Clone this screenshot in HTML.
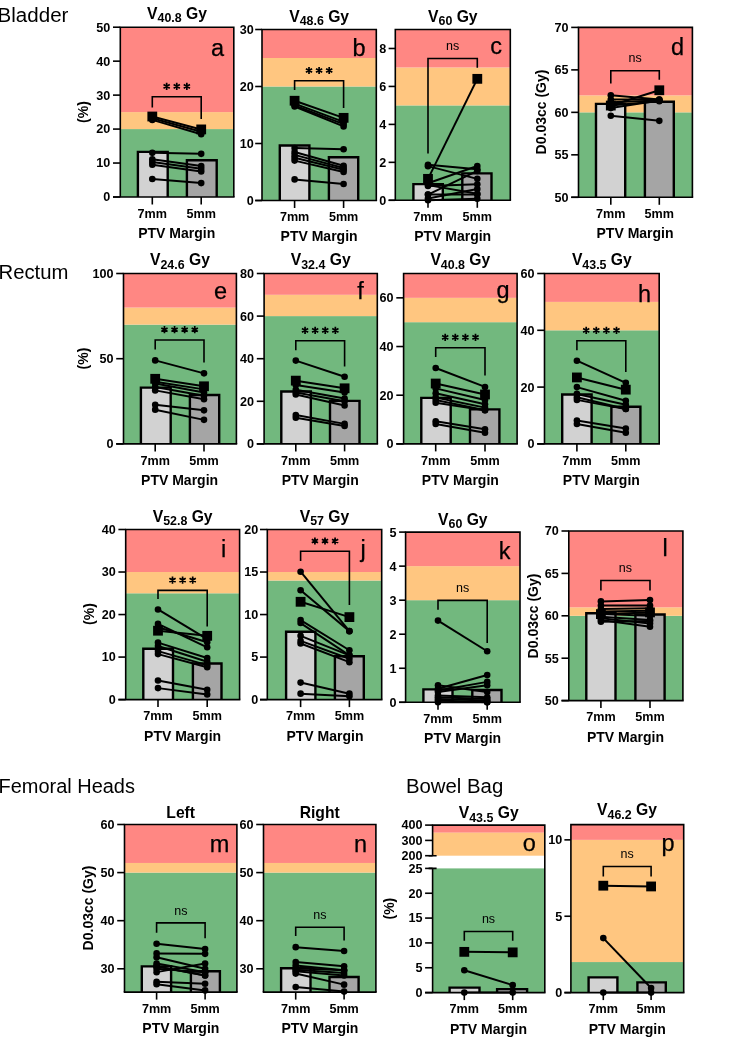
<!DOCTYPE html>
<html><head><meta charset="utf-8"><title>Figure</title>
<style>
html,body{margin:0;padding:0;background:#fff;}
svg{display:block;will-change:transform;font-family:"Liberation Sans",sans-serif;}
text{fill:#000;}
.lt{fill:#000;}
.ll{stroke:#000;stroke-width:0.25px;}
</style></head><body>
<svg width="733" height="1049" viewBox="0 0 733 1049">
<rect width="733" height="1049" fill="#fff"/>
<rect x="120.30" y="129.08" width="113.50" height="67.92" fill="#72B87E"/>
<rect x="120.30" y="112.10" width="113.50" height="16.98" fill="#FFC680"/>
<rect x="120.30" y="27.20" width="113.50" height="84.90" fill="#FF8783"/>
<path d="M137.90 197.00V151.83H167.70V197.00" fill="#D2D2D2" stroke="#000" stroke-width="2.4"/>
<path d="M186.90 197.00V160.32H216.70V197.00" fill="#A5A5A5" stroke="#000" stroke-width="2.4"/>
<path d="M120.30 197.00V27.20H233.80V197.00" fill="none" stroke="#000" stroke-width="1.6" stroke-linejoin="miter"/>
<path d="M113.00 197.00H234.60" fill="none" stroke="#000" stroke-width="1.6"/>
<path d="M113.00 197.00H120.30" stroke="#000" stroke-width="1.6"/>
<text x="110.30" y="201.40" font-size="12.6" font-weight="bold" text-anchor="end">0</text>
<path d="M113.00 163.04H120.30" stroke="#000" stroke-width="1.6"/>
<text x="110.30" y="167.44" font-size="12.6" font-weight="bold" text-anchor="end">10</text>
<path d="M113.00 129.08H120.30" stroke="#000" stroke-width="1.6"/>
<text x="110.30" y="133.48" font-size="12.6" font-weight="bold" text-anchor="end">20</text>
<path d="M113.00 95.12H120.30" stroke="#000" stroke-width="1.6"/>
<text x="110.30" y="99.52" font-size="12.6" font-weight="bold" text-anchor="end">30</text>
<path d="M113.00 61.16H120.30" stroke="#000" stroke-width="1.6"/>
<text x="110.30" y="65.56" font-size="12.6" font-weight="bold" text-anchor="end">40</text>
<path d="M113.00 27.20H120.30" stroke="#000" stroke-width="1.6"/>
<text x="110.30" y="31.60" font-size="12.6" font-weight="bold" text-anchor="end">50</text>
<path d="M152.30 197.00V204.50" stroke="#000" stroke-width="1.6"/>
<text x="152.30" y="217.70" font-size="12.6" font-weight="bold" text-anchor="middle">7mm</text>
<path d="M201.20 197.00V204.50" stroke="#000" stroke-width="1.6"/>
<text x="201.20" y="217.70" font-size="12.6" font-weight="bold" text-anchor="middle">5mm</text>
<text x="176.75" y="237.90" font-size="14" font-weight="bold" text-anchor="middle">PTV Margin</text>
<path d="M152.30 118.21L201.20 131.80" stroke="#000" stroke-width="2"/>
<path d="M152.30 119.91L201.20 134.17" stroke="#000" stroke-width="2"/>
<path d="M152.30 152.85L201.20 153.87" stroke="#000" stroke-width="2"/>
<path d="M152.30 159.30L201.20 166.10" stroke="#000" stroke-width="2"/>
<path d="M152.30 162.02L201.20 168.81" stroke="#000" stroke-width="2"/>
<path d="M152.30 164.74L201.20 171.53" stroke="#000" stroke-width="2"/>
<path d="M152.30 179.00L201.20 183.08" stroke="#000" stroke-width="2"/>
<circle cx="152.30" cy="118.21" r="3.3"/><circle cx="201.20" cy="131.80" r="3.3"/>
<circle cx="152.30" cy="119.91" r="3.3"/><circle cx="201.20" cy="134.17" r="3.3"/>
<circle cx="152.30" cy="152.85" r="3.3"/><circle cx="201.20" cy="153.87" r="3.3"/>
<circle cx="152.30" cy="159.30" r="3.3"/><circle cx="201.20" cy="166.10" r="3.3"/>
<circle cx="152.30" cy="162.02" r="3.3"/><circle cx="201.20" cy="168.81" r="3.3"/>
<circle cx="152.30" cy="164.74" r="3.3"/><circle cx="201.20" cy="171.53" r="3.3"/>
<circle cx="152.30" cy="179.00" r="3.3"/><circle cx="201.20" cy="183.08" r="3.3"/>
<path d="M152.30 116.51L201.20 129.42" stroke="#000" stroke-width="2"/>
<rect x="147.40" y="111.61" width="9.8" height="9.8"/>
<rect x="196.30" y="124.52" width="9.8" height="9.8"/>
<path d="M152.30 107.50V96.70H201.20V119.00" fill="none" stroke="#000" stroke-width="1.6"/>
<path d="M166.65 82.80L166.65 90.00M163.53 84.60L169.77 88.20M169.77 84.60L163.53 88.20M176.75 82.80L176.75 90.00M173.63 84.60L179.87 88.20M179.87 84.60L173.63 88.20M186.85 82.80L186.85 90.00M183.73 84.60L189.97 88.20M189.97 84.60L183.73 88.20" stroke="#000" stroke-width="1.7" fill="none"/>
<text x="177.05" y="18.70" font-size="15.7" font-weight="bold" text-anchor="middle">V<tspan font-size="12.4" dy="3.6">40.8</tspan><tspan dy="-3.6"> Gy</tspan></text>
<text x="217.50" y="55.60" font-size="23.5" text-anchor="middle" class="lt ll">a</text>
<text transform="translate(88.20 112.00) rotate(-90)" font-size="14" font-weight="bold" text-anchor="middle">(%)</text>
<rect x="262.00" y="86.50" width="114.30" height="114.00" fill="#72B87E"/>
<rect x="262.00" y="58.00" width="114.30" height="28.50" fill="#FFC680"/>
<rect x="262.00" y="29.50" width="114.30" height="28.50" fill="#FF8783"/>
<path d="M279.80 200.50V145.50H309.40V200.50" fill="#D2D2D2" stroke="#000" stroke-width="2.4"/>
<path d="M328.90 200.50V157.18H358.20V200.50" fill="#A5A5A5" stroke="#000" stroke-width="2.4"/>
<path d="M262.00 200.50V29.50H376.30V200.50" fill="none" stroke="#000" stroke-width="1.6" stroke-linejoin="miter"/>
<path d="M255.20 200.50H377.10" fill="none" stroke="#000" stroke-width="1.6"/>
<path d="M255.20 200.50H262.00" stroke="#000" stroke-width="1.6"/>
<text x="253.70" y="204.90" font-size="12.6" font-weight="bold" text-anchor="end">0</text>
<path d="M255.20 143.50H262.00" stroke="#000" stroke-width="1.6"/>
<text x="253.70" y="147.90" font-size="12.6" font-weight="bold" text-anchor="end">10</text>
<path d="M255.20 86.50H262.00" stroke="#000" stroke-width="1.6"/>
<text x="253.70" y="90.90" font-size="12.6" font-weight="bold" text-anchor="end">20</text>
<path d="M255.20 29.50H262.00" stroke="#000" stroke-width="1.6"/>
<text x="253.70" y="33.90" font-size="12.6" font-weight="bold" text-anchor="end">30</text>
<path d="M294.60 200.50V208.00" stroke="#000" stroke-width="1.6"/>
<text x="294.60" y="221.20" font-size="12.6" font-weight="bold" text-anchor="middle">7mm</text>
<path d="M343.60 200.50V208.00" stroke="#000" stroke-width="1.6"/>
<text x="343.60" y="221.20" font-size="12.6" font-weight="bold" text-anchor="middle">5mm</text>
<text x="319.10" y="241.40" font-size="14" font-weight="bold" text-anchor="middle">PTV Margin</text>
<path d="M294.60 103.60L343.60 121.84" stroke="#000" stroke-width="2"/>
<path d="M294.60 105.31L343.60 124.12" stroke="#000" stroke-width="2"/>
<path d="M294.60 106.45L343.60 126.40" stroke="#000" stroke-width="2"/>
<path d="M294.60 148.06L343.60 149.20" stroke="#000" stroke-width="2"/>
<path d="M294.60 152.05L343.60 165.73" stroke="#000" stroke-width="2"/>
<path d="M294.60 154.90L343.60 168.01" stroke="#000" stroke-width="2"/>
<path d="M294.60 157.75L343.60 169.72" stroke="#000" stroke-width="2"/>
<path d="M294.60 160.60L343.60 172.00" stroke="#000" stroke-width="2"/>
<path d="M294.60 179.41L343.60 183.97" stroke="#000" stroke-width="2"/>
<circle cx="294.60" cy="103.60" r="3.3"/><circle cx="343.60" cy="121.84" r="3.3"/>
<circle cx="294.60" cy="105.31" r="3.3"/><circle cx="343.60" cy="124.12" r="3.3"/>
<circle cx="294.60" cy="106.45" r="3.3"/><circle cx="343.60" cy="126.40" r="3.3"/>
<circle cx="294.60" cy="148.06" r="3.3"/><circle cx="343.60" cy="149.20" r="3.3"/>
<circle cx="294.60" cy="152.05" r="3.3"/><circle cx="343.60" cy="165.73" r="3.3"/>
<circle cx="294.60" cy="154.90" r="3.3"/><circle cx="343.60" cy="168.01" r="3.3"/>
<circle cx="294.60" cy="157.75" r="3.3"/><circle cx="343.60" cy="169.72" r="3.3"/>
<circle cx="294.60" cy="160.60" r="3.3"/><circle cx="343.60" cy="172.00" r="3.3"/>
<circle cx="294.60" cy="179.41" r="3.3"/><circle cx="343.60" cy="183.97" r="3.3"/>
<path d="M294.60 100.75L343.60 117.85" stroke="#000" stroke-width="2"/>
<rect x="289.70" y="95.85" width="9.8" height="9.8"/>
<rect x="338.70" y="112.95" width="9.8" height="9.8"/>
<path d="M294.60 90.00V80.80H343.60V108.00" fill="none" stroke="#000" stroke-width="1.6"/>
<path d="M309.00 66.90L309.00 74.10M305.88 68.70L312.12 72.30M312.12 68.70L305.88 72.30M319.10 66.90L319.10 74.10M315.98 68.70L322.22 72.30M322.22 68.70L315.98 72.30M329.20 66.90L329.20 74.10M326.08 68.70L332.32 72.30M332.32 68.70L326.08 72.30" stroke="#000" stroke-width="1.7" fill="none"/>
<text x="319.15" y="21.50" font-size="15.7" font-weight="bold" text-anchor="middle">V<tspan font-size="12.4" dy="3.6">48.6</tspan><tspan dy="-3.6"> Gy</tspan></text>
<text x="359.00" y="56.10" font-size="23.5" text-anchor="middle" class="lt ll">b</text>
<rect x="395.30" y="105.41" width="115.00" height="94.89" fill="#72B87E"/>
<rect x="395.30" y="67.46" width="115.00" height="37.96" fill="#FFC680"/>
<rect x="395.30" y="29.50" width="115.00" height="37.96" fill="#FF8783"/>
<path d="M413.40 200.30V184.17H442.80V200.30" fill="#D2D2D2" stroke="#000" stroke-width="2.4"/>
<path d="M462.30 200.30V173.35H491.50V200.30" fill="#A5A5A5" stroke="#000" stroke-width="2.4"/>
<path d="M395.30 200.30V29.50H510.30V200.30" fill="none" stroke="#000" stroke-width="1.6" stroke-linejoin="miter"/>
<path d="M388.60 200.30H511.10" fill="none" stroke="#000" stroke-width="1.6"/>
<path d="M388.60 200.30H395.30" stroke="#000" stroke-width="1.6"/>
<text x="386.30" y="204.70" font-size="12.6" font-weight="bold" text-anchor="end">0</text>
<path d="M388.60 162.34H395.30" stroke="#000" stroke-width="1.6"/>
<text x="386.30" y="166.74" font-size="12.6" font-weight="bold" text-anchor="end">2</text>
<path d="M388.60 124.39H395.30" stroke="#000" stroke-width="1.6"/>
<text x="386.30" y="128.79" font-size="12.6" font-weight="bold" text-anchor="end">4</text>
<path d="M388.60 86.43H395.30" stroke="#000" stroke-width="1.6"/>
<text x="386.30" y="90.83" font-size="12.6" font-weight="bold" text-anchor="end">6</text>
<path d="M388.60 48.48H395.30" stroke="#000" stroke-width="1.6"/>
<text x="386.30" y="52.88" font-size="12.6" font-weight="bold" text-anchor="end">8</text>
<path d="M428.00 200.30V207.80" stroke="#000" stroke-width="1.6"/>
<text x="428.00" y="221.00" font-size="12.6" font-weight="bold" text-anchor="middle">7mm</text>
<path d="M477.30 200.30V207.80" stroke="#000" stroke-width="1.6"/>
<text x="477.30" y="221.00" font-size="12.6" font-weight="bold" text-anchor="middle">5mm</text>
<text x="452.65" y="241.20" font-size="14" font-weight="bold" text-anchor="middle">PTV Margin</text>
<path d="M428.00 164.81L477.30 169.37" stroke="#000" stroke-width="2"/>
<path d="M428.00 166.14L477.30 178.86" stroke="#000" stroke-width="2"/>
<path d="M428.00 183.22L477.30 165.95" stroke="#000" stroke-width="2"/>
<path d="M428.00 185.12L477.30 193.85" stroke="#000" stroke-width="2"/>
<path d="M428.00 194.61L477.30 170.88" stroke="#000" stroke-width="2"/>
<path d="M428.00 194.61L477.30 194.61" stroke="#000" stroke-width="2"/>
<path d="M428.00 198.40L477.30 189.10" stroke="#000" stroke-width="2"/>
<path d="M428.00 200.30L477.30 198.78" stroke="#000" stroke-width="2"/>
<path d="M428.00 186.07L477.30 184.36" stroke="#000" stroke-width="2"/>
<circle cx="428.00" cy="164.81" r="3.3"/><circle cx="477.30" cy="169.37" r="3.3"/>
<circle cx="428.00" cy="166.14" r="3.3"/><circle cx="477.30" cy="178.86" r="3.3"/>
<circle cx="428.00" cy="183.22" r="3.3"/><circle cx="477.30" cy="165.95" r="3.3"/>
<circle cx="428.00" cy="185.12" r="3.3"/><circle cx="477.30" cy="193.85" r="3.3"/>
<circle cx="428.00" cy="194.61" r="3.3"/><circle cx="477.30" cy="170.88" r="3.3"/>
<circle cx="428.00" cy="194.61" r="3.3"/><circle cx="477.30" cy="194.61" r="3.3"/>
<circle cx="428.00" cy="198.40" r="3.3"/><circle cx="477.30" cy="189.10" r="3.3"/>
<circle cx="428.00" cy="200.30" r="3.3"/><circle cx="477.30" cy="198.78" r="3.3"/>
<circle cx="428.00" cy="186.07" r="3.3"/><circle cx="477.30" cy="184.36" r="3.3"/>
<path d="M428.00 178.86L477.30 78.84" stroke="#000" stroke-width="2"/>
<rect x="423.10" y="173.96" width="9.8" height="9.8"/>
<rect x="472.40" y="73.94" width="9.8" height="9.8"/>
<path d="M428.00 153.60V58.50H477.30V67.70" fill="none" stroke="#000" stroke-width="1.6"/>
<text x="452.65" y="50.20" font-size="12.5" text-anchor="middle">ns</text>
<text x="452.80" y="21.50" font-size="15.7" font-weight="bold" text-anchor="middle">V<tspan font-size="12.4" dy="3.6">60</tspan><tspan dy="-3.6"> Gy</tspan></text>
<text x="496.00" y="54.10" font-size="23.5" text-anchor="middle" class="lt ll">c</text>
<rect x="578.50" y="112.35" width="113.90" height="84.95" fill="#72B87E"/>
<rect x="578.50" y="95.36" width="113.90" height="16.99" fill="#FFC680"/>
<rect x="578.50" y="27.40" width="113.90" height="67.96" fill="#FF8783"/>
<path d="M596.00 197.30V103.86H625.20V197.30" fill="#D2D2D2" stroke="#000" stroke-width="2.4"/>
<path d="M644.90 197.30V101.73H673.80V197.30" fill="#A5A5A5" stroke="#000" stroke-width="2.4"/>
<path d="M578.50 197.30V27.40H692.40V197.30" fill="none" stroke="#000" stroke-width="1.6" stroke-linejoin="miter"/>
<path d="M571.20 197.30H693.20" fill="none" stroke="#000" stroke-width="1.6"/>
<path d="M571.20 197.30H578.50" stroke="#000" stroke-width="1.6"/>
<text x="568.50" y="201.70" font-size="12.6" font-weight="bold" text-anchor="end">50</text>
<path d="M571.20 154.83H578.50" stroke="#000" stroke-width="1.6"/>
<text x="568.50" y="159.23" font-size="12.6" font-weight="bold" text-anchor="end">55</text>
<path d="M571.20 112.35H578.50" stroke="#000" stroke-width="1.6"/>
<text x="568.50" y="116.75" font-size="12.6" font-weight="bold" text-anchor="end">60</text>
<path d="M571.20 69.88H578.50" stroke="#000" stroke-width="1.6"/>
<text x="568.50" y="74.28" font-size="12.6" font-weight="bold" text-anchor="end">65</text>
<path d="M571.20 27.40H578.50" stroke="#000" stroke-width="1.6"/>
<text x="568.50" y="31.80" font-size="12.6" font-weight="bold" text-anchor="end">70</text>
<path d="M610.80 197.30V204.80" stroke="#000" stroke-width="1.6"/>
<text x="610.80" y="218.00" font-size="12.6" font-weight="bold" text-anchor="middle">7mm</text>
<path d="M659.30 197.30V204.80" stroke="#000" stroke-width="1.6"/>
<text x="659.30" y="218.00" font-size="12.6" font-weight="bold" text-anchor="middle">5mm</text>
<text x="635.05" y="238.20" font-size="14" font-weight="bold" text-anchor="middle">PTV Margin</text>
<path d="M610.80 95.36L659.30 99.61" stroke="#000" stroke-width="2"/>
<path d="M610.80 99.61L659.30 99.61" stroke="#000" stroke-width="2"/>
<path d="M610.80 102.16L659.30 100.46" stroke="#000" stroke-width="2"/>
<path d="M610.80 105.55L659.30 101.31" stroke="#000" stroke-width="2"/>
<path d="M610.80 108.10L659.30 100.46" stroke="#000" stroke-width="2"/>
<path d="M610.80 115.75L659.30 120.84" stroke="#000" stroke-width="2"/>
<circle cx="610.80" cy="95.36" r="3.3"/><circle cx="659.30" cy="99.61" r="3.3"/>
<circle cx="610.80" cy="99.61" r="3.3"/><circle cx="659.30" cy="99.61" r="3.3"/>
<circle cx="610.80" cy="102.16" r="3.3"/><circle cx="659.30" cy="100.46" r="3.3"/>
<circle cx="610.80" cy="105.55" r="3.3"/><circle cx="659.30" cy="101.31" r="3.3"/>
<circle cx="610.80" cy="108.10" r="3.3"/><circle cx="659.30" cy="100.46" r="3.3"/>
<circle cx="610.80" cy="115.75" r="3.3"/><circle cx="659.30" cy="120.84" r="3.3"/>
<path d="M610.80 105.55L659.30 90.26" stroke="#000" stroke-width="2"/>
<rect x="605.90" y="100.65" width="9.8" height="9.8"/>
<rect x="654.40" y="85.36" width="9.8" height="9.8"/>
<path d="M610.80 83.50V70.70H659.30V79.80" fill="none" stroke="#000" stroke-width="1.6"/>
<text x="635.05" y="62.40" font-size="12.5" text-anchor="middle">ns</text>
<text x="635.45" y="0.00" font-size="15.7" font-weight="bold" text-anchor="middle"></text>
<text x="677.50" y="55.10" font-size="23.5" text-anchor="middle" class="lt ll">d</text>
<text transform="translate(546.00 112.00) rotate(-90)" font-size="14" font-weight="bold" text-anchor="middle">D0.03cc (Gy)</text>
<rect x="123.50" y="324.62" width="112.90" height="119.28" fill="#72B87E"/>
<rect x="123.50" y="307.58" width="112.90" height="17.04" fill="#FFC680"/>
<rect x="123.50" y="273.50" width="112.90" height="34.08" fill="#FF8783"/>
<path d="M140.90 443.90V387.67H170.70V443.90" fill="#D2D2D2" stroke="#000" stroke-width="2.4"/>
<path d="M189.90 443.90V395.00H219.20V443.90" fill="#A5A5A5" stroke="#000" stroke-width="2.4"/>
<path d="M123.50 443.90V273.50H236.40V443.90" fill="none" stroke="#000" stroke-width="1.6" stroke-linejoin="miter"/>
<path d="M116.20 443.90H237.20" fill="none" stroke="#000" stroke-width="1.6"/>
<path d="M116.20 443.90H123.50" stroke="#000" stroke-width="1.6"/>
<text x="113.50" y="448.30" font-size="12.6" font-weight="bold" text-anchor="end">0</text>
<path d="M116.20 358.70H123.50" stroke="#000" stroke-width="1.6"/>
<text x="113.50" y="363.10" font-size="12.6" font-weight="bold" text-anchor="end">50</text>
<path d="M116.20 273.50H123.50" stroke="#000" stroke-width="1.6"/>
<text x="113.50" y="277.90" font-size="12.6" font-weight="bold" text-anchor="end">100</text>
<path d="M155.20 443.90V451.40" stroke="#000" stroke-width="1.6"/>
<text x="155.20" y="464.60" font-size="12.6" font-weight="bold" text-anchor="middle">7mm</text>
<path d="M204.00 443.90V451.40" stroke="#000" stroke-width="1.6"/>
<text x="204.00" y="464.60" font-size="12.6" font-weight="bold" text-anchor="middle">5mm</text>
<text x="179.60" y="484.80" font-size="14" font-weight="bold" text-anchor="middle">PTV Margin</text>
<path d="M155.20 360.40L204.00 373.35" stroke="#000" stroke-width="2"/>
<path d="M155.20 381.70L204.00 389.37" stroke="#000" stroke-width="2"/>
<path d="M155.20 383.58L204.00 392.44" stroke="#000" stroke-width="2"/>
<path d="M155.20 386.99L204.00 395.85" stroke="#000" stroke-width="2"/>
<path d="M155.20 390.39L204.00 399.26" stroke="#000" stroke-width="2"/>
<path d="M155.20 404.71L204.00 410.33" stroke="#000" stroke-width="2"/>
<path d="M155.20 409.65L204.00 419.87" stroke="#000" stroke-width="2"/>
<circle cx="155.20" cy="360.40" r="3.3"/><circle cx="204.00" cy="373.35" r="3.3"/>
<circle cx="155.20" cy="381.70" r="3.3"/><circle cx="204.00" cy="389.37" r="3.3"/>
<circle cx="155.20" cy="383.58" r="3.3"/><circle cx="204.00" cy="392.44" r="3.3"/>
<circle cx="155.20" cy="386.99" r="3.3"/><circle cx="204.00" cy="395.85" r="3.3"/>
<circle cx="155.20" cy="390.39" r="3.3"/><circle cx="204.00" cy="399.26" r="3.3"/>
<circle cx="155.20" cy="404.71" r="3.3"/><circle cx="204.00" cy="410.33" r="3.3"/>
<circle cx="155.20" cy="409.65" r="3.3"/><circle cx="204.00" cy="419.87" r="3.3"/>
<path d="M155.20 378.81L204.00 386.30" stroke="#000" stroke-width="2"/>
<rect x="150.30" y="373.91" width="9.8" height="9.8"/>
<rect x="199.10" y="381.40" width="9.8" height="9.8"/>
<path d="M155.20 349.50V340.00H204.00V362.50" fill="none" stroke="#000" stroke-width="1.6"/>
<path d="M164.45 326.10L164.45 333.30M161.33 327.90L167.57 331.50M167.57 327.90L161.33 331.50M174.55 326.10L174.55 333.30M171.43 327.90L177.67 331.50M177.67 327.90L171.43 331.50M184.65 326.10L184.65 333.30M181.53 327.90L187.77 331.50M187.77 327.90L181.53 331.50M194.75 326.10L194.75 333.30M191.63 327.90L197.87 331.50M197.87 327.90L191.63 331.50" stroke="#000" stroke-width="1.7" fill="none"/>
<text x="179.95" y="265.00" font-size="15.7" font-weight="bold" text-anchor="middle">V<tspan font-size="12.4" dy="3.6">24.6</tspan><tspan dy="-3.6"> Gy</tspan></text>
<text x="220.50" y="299.10" font-size="23.5" text-anchor="middle" class="lt ll">e</text>
<text transform="translate(88.20 358.50) rotate(-90)" font-size="14" font-weight="bold" text-anchor="middle">(%)</text>
<rect x="264.10" y="316.10" width="113.20" height="127.80" fill="#72B87E"/>
<rect x="264.10" y="294.80" width="113.20" height="21.30" fill="#FFC680"/>
<rect x="264.10" y="273.50" width="113.20" height="21.30" fill="#FF8783"/>
<path d="M281.30 443.90V391.50H310.80V443.90" fill="#D2D2D2" stroke="#000" stroke-width="2.4"/>
<path d="M330.00 443.90V400.87H359.50V443.90" fill="#A5A5A5" stroke="#000" stroke-width="2.4"/>
<path d="M264.10 443.90V273.50H377.30V443.90" fill="none" stroke="#000" stroke-width="1.6" stroke-linejoin="miter"/>
<path d="M256.80 443.90H378.10" fill="none" stroke="#000" stroke-width="1.6"/>
<path d="M256.80 443.90H264.10" stroke="#000" stroke-width="1.6"/>
<text x="254.10" y="448.30" font-size="12.6" font-weight="bold" text-anchor="end">0</text>
<path d="M256.80 401.30H264.10" stroke="#000" stroke-width="1.6"/>
<text x="254.10" y="405.70" font-size="12.6" font-weight="bold" text-anchor="end">20</text>
<path d="M256.80 358.70H264.10" stroke="#000" stroke-width="1.6"/>
<text x="254.10" y="363.10" font-size="12.6" font-weight="bold" text-anchor="end">40</text>
<path d="M256.80 316.10H264.10" stroke="#000" stroke-width="1.6"/>
<text x="254.10" y="320.50" font-size="12.6" font-weight="bold" text-anchor="end">60</text>
<path d="M256.80 273.50H264.10" stroke="#000" stroke-width="1.6"/>
<text x="254.10" y="277.90" font-size="12.6" font-weight="bold" text-anchor="end">80</text>
<path d="M295.80 443.90V451.40" stroke="#000" stroke-width="1.6"/>
<text x="295.80" y="464.60" font-size="12.6" font-weight="bold" text-anchor="middle">7mm</text>
<path d="M344.60 443.90V451.40" stroke="#000" stroke-width="1.6"/>
<text x="344.60" y="464.60" font-size="12.6" font-weight="bold" text-anchor="middle">5mm</text>
<text x="320.20" y="484.80" font-size="14" font-weight="bold" text-anchor="middle">PTV Margin</text>
<path d="M295.80 360.62L344.60 376.80" stroke="#000" stroke-width="2"/>
<path d="M295.80 384.90L344.60 392.57" stroke="#000" stroke-width="2"/>
<path d="M295.80 389.80L344.60 398.53" stroke="#000" stroke-width="2"/>
<path d="M295.80 392.57L344.60 401.30" stroke="#000" stroke-width="2"/>
<path d="M295.80 394.48L344.60 405.56" stroke="#000" stroke-width="2"/>
<path d="M295.80 414.93L344.60 423.88" stroke="#000" stroke-width="2"/>
<path d="M295.80 417.70L344.60 426.01" stroke="#000" stroke-width="2"/>
<circle cx="295.80" cy="360.62" r="3.3"/><circle cx="344.60" cy="376.80" r="3.3"/>
<circle cx="295.80" cy="384.90" r="3.3"/><circle cx="344.60" cy="392.57" r="3.3"/>
<circle cx="295.80" cy="389.80" r="3.3"/><circle cx="344.60" cy="398.53" r="3.3"/>
<circle cx="295.80" cy="392.57" r="3.3"/><circle cx="344.60" cy="401.30" r="3.3"/>
<circle cx="295.80" cy="394.48" r="3.3"/><circle cx="344.60" cy="405.56" r="3.3"/>
<circle cx="295.80" cy="414.93" r="3.3"/><circle cx="344.60" cy="423.88" r="3.3"/>
<circle cx="295.80" cy="417.70" r="3.3"/><circle cx="344.60" cy="426.01" r="3.3"/>
<path d="M295.80 380.64L344.60 388.31" stroke="#000" stroke-width="2"/>
<rect x="290.90" y="375.74" width="9.8" height="9.8"/>
<rect x="339.70" y="383.41" width="9.8" height="9.8"/>
<path d="M295.80 350.20V340.70H344.60V366.60" fill="none" stroke="#000" stroke-width="1.6"/>
<path d="M305.05 326.80L305.05 334.00M301.93 328.60L308.17 332.20M308.17 328.60L301.93 332.20M315.15 326.80L315.15 334.00M312.03 328.60L318.27 332.20M318.27 328.60L312.03 332.20M325.25 326.80L325.25 334.00M322.13 328.60L328.37 332.20M328.37 328.60L322.13 332.20M335.35 326.80L335.35 334.00M332.23 328.60L338.47 332.20M338.47 328.60L332.23 332.20" stroke="#000" stroke-width="1.7" fill="none"/>
<text x="320.70" y="265.00" font-size="15.7" font-weight="bold" text-anchor="middle">V<tspan font-size="12.4" dy="3.6">32.4</tspan><tspan dy="-3.6"> Gy</tspan></text>
<text x="360.50" y="299.10" font-size="23.5" text-anchor="middle" class="lt ll">f</text>
<rect x="403.60" y="322.19" width="113.50" height="121.71" fill="#72B87E"/>
<rect x="403.60" y="297.84" width="113.50" height="24.34" fill="#FFC680"/>
<rect x="403.60" y="273.50" width="113.50" height="24.34" fill="#FF8783"/>
<path d="M421.30 443.90V397.89H450.70V443.90" fill="#D2D2D2" stroke="#000" stroke-width="2.4"/>
<path d="M470.00 443.90V409.33H499.40V443.90" fill="#A5A5A5" stroke="#000" stroke-width="2.4"/>
<path d="M403.60 443.90V273.50H517.10V443.90" fill="none" stroke="#000" stroke-width="1.6" stroke-linejoin="miter"/>
<path d="M396.30 443.90H517.90" fill="none" stroke="#000" stroke-width="1.6"/>
<path d="M396.30 443.90H403.60" stroke="#000" stroke-width="1.6"/>
<text x="393.60" y="448.30" font-size="12.6" font-weight="bold" text-anchor="end">0</text>
<path d="M396.30 395.21H403.60" stroke="#000" stroke-width="1.6"/>
<text x="393.60" y="399.61" font-size="12.6" font-weight="bold" text-anchor="end">20</text>
<path d="M396.30 346.53H403.60" stroke="#000" stroke-width="1.6"/>
<text x="393.60" y="350.93" font-size="12.6" font-weight="bold" text-anchor="end">40</text>
<path d="M396.30 297.84H403.60" stroke="#000" stroke-width="1.6"/>
<text x="393.60" y="302.24" font-size="12.6" font-weight="bold" text-anchor="end">60</text>
<path d="M435.70 443.90V451.40" stroke="#000" stroke-width="1.6"/>
<text x="435.70" y="464.60" font-size="12.6" font-weight="bold" text-anchor="middle">7mm</text>
<path d="M485.00 443.90V451.40" stroke="#000" stroke-width="1.6"/>
<text x="485.00" y="464.60" font-size="12.6" font-weight="bold" text-anchor="middle">5mm</text>
<text x="460.35" y="484.80" font-size="14" font-weight="bold" text-anchor="middle">PTV Margin</text>
<path d="M435.70 367.95L485.00 386.94" stroke="#000" stroke-width="2"/>
<path d="M435.70 388.40L485.00 400.08" stroke="#000" stroke-width="2"/>
<path d="M435.70 393.27L485.00 404.22" stroke="#000" stroke-width="2"/>
<path d="M435.70 397.41L485.00 407.63" stroke="#000" stroke-width="2"/>
<path d="M435.70 400.08L485.00 410.31" stroke="#000" stroke-width="2"/>
<path d="M435.70 402.76L485.00 410.31" stroke="#000" stroke-width="2"/>
<path d="M435.70 421.26L485.00 429.29" stroke="#000" stroke-width="2"/>
<path d="M435.70 423.94L485.00 432.70" stroke="#000" stroke-width="2"/>
<circle cx="435.70" cy="367.95" r="3.3"/><circle cx="485.00" cy="386.94" r="3.3"/>
<circle cx="435.70" cy="388.40" r="3.3"/><circle cx="485.00" cy="400.08" r="3.3"/>
<circle cx="435.70" cy="393.27" r="3.3"/><circle cx="485.00" cy="404.22" r="3.3"/>
<circle cx="435.70" cy="397.41" r="3.3"/><circle cx="485.00" cy="407.63" r="3.3"/>
<circle cx="435.70" cy="400.08" r="3.3"/><circle cx="485.00" cy="410.31" r="3.3"/>
<circle cx="435.70" cy="402.76" r="3.3"/><circle cx="485.00" cy="410.31" r="3.3"/>
<circle cx="435.70" cy="421.26" r="3.3"/><circle cx="485.00" cy="429.29" r="3.3"/>
<circle cx="435.70" cy="423.94" r="3.3"/><circle cx="485.00" cy="432.70" r="3.3"/>
<path d="M435.70 383.53L485.00 394.48" stroke="#000" stroke-width="2"/>
<rect x="430.80" y="378.63" width="9.8" height="9.8"/>
<rect x="480.10" y="389.58" width="9.8" height="9.8"/>
<path d="M435.70 357.00V347.70H485.00V375.50" fill="none" stroke="#000" stroke-width="1.6"/>
<path d="M445.20 333.80L445.20 341.00M442.08 335.60L448.32 339.20M448.32 335.60L442.08 339.20M455.30 333.80L455.30 341.00M452.18 335.60L458.42 339.20M458.42 335.60L452.18 339.20M465.40 333.80L465.40 341.00M462.28 335.60L468.52 339.20M468.52 335.60L462.28 339.20M475.50 333.80L475.50 341.00M472.38 335.60L478.62 339.20M478.62 335.60L472.38 339.20" stroke="#000" stroke-width="1.7" fill="none"/>
<text x="460.35" y="265.00" font-size="15.7" font-weight="bold" text-anchor="middle">V<tspan font-size="12.4" dy="3.6">40.8</tspan><tspan dy="-3.6"> Gy</tspan></text>
<text x="503.00" y="297.60" font-size="23.5" text-anchor="middle" class="lt ll">g</text>
<rect x="544.50" y="330.30" width="114.70" height="113.60" fill="#72B87E"/>
<rect x="544.50" y="301.90" width="114.70" height="28.40" fill="#FFC680"/>
<rect x="544.50" y="273.50" width="114.70" height="28.40" fill="#FF8783"/>
<path d="M562.20 443.90V394.48H591.60V443.90" fill="#D2D2D2" stroke="#000" stroke-width="2.4"/>
<path d="M611.40 443.90V406.70H640.40V443.90" fill="#A5A5A5" stroke="#000" stroke-width="2.4"/>
<path d="M544.50 443.90V273.50H659.20V443.90" fill="none" stroke="#000" stroke-width="1.6" stroke-linejoin="miter"/>
<path d="M537.20 443.90H660.00" fill="none" stroke="#000" stroke-width="1.6"/>
<path d="M537.20 443.90H544.50" stroke="#000" stroke-width="1.6"/>
<text x="534.50" y="448.30" font-size="12.6" font-weight="bold" text-anchor="end">0</text>
<path d="M537.20 387.10H544.50" stroke="#000" stroke-width="1.6"/>
<text x="534.50" y="391.50" font-size="12.6" font-weight="bold" text-anchor="end">20</text>
<path d="M537.20 330.30H544.50" stroke="#000" stroke-width="1.6"/>
<text x="534.50" y="334.70" font-size="12.6" font-weight="bold" text-anchor="end">40</text>
<path d="M537.20 273.50H544.50" stroke="#000" stroke-width="1.6"/>
<text x="534.50" y="277.90" font-size="12.6" font-weight="bold" text-anchor="end">60</text>
<path d="M576.90 443.90V451.40" stroke="#000" stroke-width="1.6"/>
<text x="576.90" y="464.60" font-size="12.6" font-weight="bold" text-anchor="middle">7mm</text>
<path d="M625.80 443.90V451.40" stroke="#000" stroke-width="1.6"/>
<text x="625.80" y="464.60" font-size="12.6" font-weight="bold" text-anchor="middle">5mm</text>
<text x="601.35" y="484.80" font-size="14" font-weight="bold" text-anchor="middle">PTV Margin</text>
<path d="M576.90 360.69L625.80 382.84" stroke="#000" stroke-width="2"/>
<path d="M576.90 387.10L625.80 400.73" stroke="#000" stroke-width="2"/>
<path d="M576.90 393.92L625.80 404.71" stroke="#000" stroke-width="2"/>
<path d="M576.90 397.32L625.80 408.97" stroke="#000" stroke-width="2"/>
<path d="M576.90 399.88L625.80 408.97" stroke="#000" stroke-width="2"/>
<path d="M576.90 420.61L625.80 428.56" stroke="#000" stroke-width="2"/>
<path d="M576.90 424.02L625.80 432.82" stroke="#000" stroke-width="2"/>
<circle cx="576.90" cy="360.69" r="3.3"/><circle cx="625.80" cy="382.84" r="3.3"/>
<circle cx="576.90" cy="387.10" r="3.3"/><circle cx="625.80" cy="400.73" r="3.3"/>
<circle cx="576.90" cy="393.92" r="3.3"/><circle cx="625.80" cy="404.71" r="3.3"/>
<circle cx="576.90" cy="397.32" r="3.3"/><circle cx="625.80" cy="408.97" r="3.3"/>
<circle cx="576.90" cy="399.88" r="3.3"/><circle cx="625.80" cy="408.97" r="3.3"/>
<circle cx="576.90" cy="420.61" r="3.3"/><circle cx="625.80" cy="428.56" r="3.3"/>
<circle cx="576.90" cy="424.02" r="3.3"/><circle cx="625.80" cy="432.82" r="3.3"/>
<path d="M576.90 377.44L625.80 389.66" stroke="#000" stroke-width="2"/>
<rect x="572.00" y="372.54" width="9.8" height="9.8"/>
<rect x="620.90" y="384.76" width="9.8" height="9.8"/>
<path d="M576.90 350.20V340.70H625.80V372.00" fill="none" stroke="#000" stroke-width="1.6"/>
<path d="M586.20 326.80L586.20 334.00M583.08 328.60L589.32 332.20M589.32 328.60L583.08 332.20M596.30 326.80L596.30 334.00M593.18 328.60L599.42 332.20M599.42 328.60L593.18 332.20M606.40 326.80L606.40 334.00M603.28 328.60L609.52 332.20M609.52 328.60L603.28 332.20M616.50 326.80L616.50 334.00M613.38 328.60L619.62 332.20M619.62 328.60L613.38 332.20" stroke="#000" stroke-width="1.7" fill="none"/>
<text x="601.85" y="265.00" font-size="15.7" font-weight="bold" text-anchor="middle">V<tspan font-size="12.4" dy="3.6">43.5</tspan><tspan dy="-3.6"> Gy</tspan></text>
<text x="644.50" y="301.60" font-size="23.5" text-anchor="middle" class="lt ll">h</text>
<rect x="125.70" y="593.29" width="113.90" height="106.31" fill="#72B87E"/>
<rect x="125.70" y="572.02" width="113.90" height="21.26" fill="#FFC680"/>
<rect x="125.70" y="529.50" width="113.90" height="42.52" fill="#FF8783"/>
<path d="M143.30 699.60V648.78H173.00V699.60" fill="#D2D2D2" stroke="#000" stroke-width="2.4"/>
<path d="M192.90 699.60V663.45H221.50V699.60" fill="#A5A5A5" stroke="#000" stroke-width="2.4"/>
<path d="M125.70 699.60V529.50H239.60V699.60" fill="none" stroke="#000" stroke-width="1.6" stroke-linejoin="miter"/>
<path d="M118.40 699.60H240.40" fill="none" stroke="#000" stroke-width="1.6"/>
<path d="M118.40 699.60H125.70" stroke="#000" stroke-width="1.6"/>
<text x="115.70" y="704.00" font-size="12.6" font-weight="bold" text-anchor="end">0</text>
<path d="M118.40 657.08H125.70" stroke="#000" stroke-width="1.6"/>
<text x="115.70" y="661.48" font-size="12.6" font-weight="bold" text-anchor="end">10</text>
<path d="M118.40 614.55H125.70" stroke="#000" stroke-width="1.6"/>
<text x="115.70" y="618.95" font-size="12.6" font-weight="bold" text-anchor="end">20</text>
<path d="M118.40 572.02H125.70" stroke="#000" stroke-width="1.6"/>
<text x="115.70" y="576.42" font-size="12.6" font-weight="bold" text-anchor="end">30</text>
<path d="M118.40 529.50H125.70" stroke="#000" stroke-width="1.6"/>
<text x="115.70" y="533.90" font-size="12.6" font-weight="bold" text-anchor="end">40</text>
<path d="M158.00 699.60V707.10" stroke="#000" stroke-width="1.6"/>
<text x="158.00" y="720.30" font-size="12.6" font-weight="bold" text-anchor="middle">7mm</text>
<path d="M207.20 699.60V707.10" stroke="#000" stroke-width="1.6"/>
<text x="207.20" y="720.30" font-size="12.6" font-weight="bold" text-anchor="middle">5mm</text>
<text x="182.60" y="740.50" font-size="14" font-weight="bold" text-anchor="middle">PTV Margin</text>
<path d="M158.00 609.45L207.20 639.21" stroke="#000" stroke-width="2"/>
<path d="M158.00 623.91L207.20 647.29" stroke="#000" stroke-width="2"/>
<path d="M158.00 627.31L207.20 642.19" stroke="#000" stroke-width="2"/>
<path d="M158.00 642.62L207.20 657.93" stroke="#000" stroke-width="2"/>
<path d="M158.00 646.02L207.20 661.75" stroke="#000" stroke-width="2"/>
<path d="M158.00 651.12L207.20 665.15" stroke="#000" stroke-width="2"/>
<path d="M158.00 654.10L207.20 667.28" stroke="#000" stroke-width="2"/>
<path d="M158.00 680.46L207.20 689.82" stroke="#000" stroke-width="2"/>
<path d="M158.00 688.12L207.20 694.50" stroke="#000" stroke-width="2"/>
<circle cx="158.00" cy="609.45" r="3.3"/><circle cx="207.20" cy="639.21" r="3.3"/>
<circle cx="158.00" cy="623.91" r="3.3"/><circle cx="207.20" cy="647.29" r="3.3"/>
<circle cx="158.00" cy="627.31" r="3.3"/><circle cx="207.20" cy="642.19" r="3.3"/>
<circle cx="158.00" cy="642.62" r="3.3"/><circle cx="207.20" cy="657.93" r="3.3"/>
<circle cx="158.00" cy="646.02" r="3.3"/><circle cx="207.20" cy="661.75" r="3.3"/>
<circle cx="158.00" cy="651.12" r="3.3"/><circle cx="207.20" cy="665.15" r="3.3"/>
<circle cx="158.00" cy="654.10" r="3.3"/><circle cx="207.20" cy="667.28" r="3.3"/>
<circle cx="158.00" cy="680.46" r="3.3"/><circle cx="207.20" cy="689.82" r="3.3"/>
<circle cx="158.00" cy="688.12" r="3.3"/><circle cx="207.20" cy="694.50" r="3.3"/>
<path d="M158.00 630.71L207.20 635.81" stroke="#000" stroke-width="2"/>
<rect x="153.10" y="625.81" width="9.8" height="9.8"/>
<rect x="202.30" y="630.91" width="9.8" height="9.8"/>
<path d="M158.00 599.00V590.40H207.20V626.50" fill="none" stroke="#000" stroke-width="1.6"/>
<path d="M172.50 576.50L172.50 583.70M169.38 578.30L175.62 581.90M175.62 578.30L169.38 581.90M182.60 576.50L182.60 583.70M179.48 578.30L185.72 581.90M185.72 578.30L179.48 581.90M192.70 576.50L192.70 583.70M189.58 578.30L195.82 581.90M195.82 578.30L189.58 581.90" stroke="#000" stroke-width="1.7" fill="none"/>
<text x="182.65" y="521.50" font-size="15.7" font-weight="bold" text-anchor="middle">V<tspan font-size="12.4" dy="3.6">52.8</tspan><tspan dy="-3.6"> Gy</tspan></text>
<text x="223.50" y="556.60" font-size="23.5" text-anchor="middle" class="lt ll">i</text>
<text transform="translate(94.00 614.00) rotate(-90)" font-size="14" font-weight="bold" text-anchor="middle">(%)</text>
<rect x="267.30" y="580.53" width="114.40" height="119.07" fill="#72B87E"/>
<rect x="267.30" y="572.02" width="114.40" height="8.50" fill="#FFC680"/>
<rect x="267.30" y="529.50" width="114.40" height="42.52" fill="#FF8783"/>
<path d="M286.10 699.60V631.82H315.40V699.60" fill="#D2D2D2" stroke="#000" stroke-width="2.4"/>
<path d="M334.90 699.60V656.22H363.80V699.60" fill="#A5A5A5" stroke="#000" stroke-width="2.4"/>
<path d="M267.30 699.60V529.50H381.70V699.60" fill="none" stroke="#000" stroke-width="1.6" stroke-linejoin="miter"/>
<path d="M260.00 699.60H382.50" fill="none" stroke="#000" stroke-width="1.6"/>
<path d="M260.00 699.60H267.30" stroke="#000" stroke-width="1.6"/>
<text x="258.30" y="704.00" font-size="12.6" font-weight="bold" text-anchor="end">0</text>
<path d="M260.00 657.08H267.30" stroke="#000" stroke-width="1.6"/>
<text x="258.30" y="661.48" font-size="12.6" font-weight="bold" text-anchor="end">5</text>
<path d="M260.00 614.55H267.30" stroke="#000" stroke-width="1.6"/>
<text x="258.30" y="618.95" font-size="12.6" font-weight="bold" text-anchor="end">10</text>
<path d="M260.00 572.02H267.30" stroke="#000" stroke-width="1.6"/>
<text x="258.30" y="576.42" font-size="12.6" font-weight="bold" text-anchor="end">15</text>
<path d="M260.00 529.50H267.30" stroke="#000" stroke-width="1.6"/>
<text x="258.30" y="533.90" font-size="12.6" font-weight="bold" text-anchor="end">20</text>
<path d="M300.60 699.60V707.10" stroke="#000" stroke-width="1.6"/>
<text x="300.60" y="720.30" font-size="12.6" font-weight="bold" text-anchor="middle">7mm</text>
<path d="M349.40 699.60V707.10" stroke="#000" stroke-width="1.6"/>
<text x="349.40" y="720.30" font-size="12.6" font-weight="bold" text-anchor="middle">5mm</text>
<text x="325.00" y="740.50" font-size="14" font-weight="bold" text-anchor="middle">PTV Margin</text>
<path d="M300.60 571.68L349.40 631.13" stroke="#000" stroke-width="2"/>
<path d="M300.60 590.31L349.40 631.13" stroke="#000" stroke-width="2"/>
<path d="M300.60 620.08L349.40 650.27" stroke="#000" stroke-width="2"/>
<path d="M300.60 623.06L349.40 655.37" stroke="#000" stroke-width="2"/>
<path d="M300.60 635.81L349.40 655.37" stroke="#000" stroke-width="2"/>
<path d="M300.60 640.92L349.40 658.78" stroke="#000" stroke-width="2"/>
<path d="M300.60 643.47L349.40 662.18" stroke="#000" stroke-width="2"/>
<path d="M300.60 682.59L349.40 693.65" stroke="#000" stroke-width="2"/>
<path d="M300.60 693.65L349.40 696.20" stroke="#000" stroke-width="2"/>
<circle cx="300.60" cy="571.68" r="3.3"/><circle cx="349.40" cy="631.13" r="3.3"/>
<circle cx="300.60" cy="590.31" r="3.3"/><circle cx="349.40" cy="631.13" r="3.3"/>
<circle cx="300.60" cy="620.08" r="3.3"/><circle cx="349.40" cy="650.27" r="3.3"/>
<circle cx="300.60" cy="623.06" r="3.3"/><circle cx="349.40" cy="655.37" r="3.3"/>
<circle cx="300.60" cy="635.81" r="3.3"/><circle cx="349.40" cy="655.37" r="3.3"/>
<circle cx="300.60" cy="640.92" r="3.3"/><circle cx="349.40" cy="658.78" r="3.3"/>
<circle cx="300.60" cy="643.47" r="3.3"/><circle cx="349.40" cy="662.18" r="3.3"/>
<circle cx="300.60" cy="682.59" r="3.3"/><circle cx="349.40" cy="693.65" r="3.3"/>
<circle cx="300.60" cy="693.65" r="3.3"/><circle cx="349.40" cy="696.20" r="3.3"/>
<path d="M300.60 601.79L349.40 617.10" stroke="#000" stroke-width="2"/>
<rect x="295.70" y="596.89" width="9.8" height="9.8"/>
<rect x="344.50" y="612.20" width="9.8" height="9.8"/>
<path d="M300.60 561.00V551.30H349.40V605.00" fill="none" stroke="#000" stroke-width="1.6"/>
<path d="M314.90 537.40L314.90 544.60M311.78 539.20L318.02 542.80M318.02 539.20L311.78 542.80M325.00 537.40L325.00 544.60M321.88 539.20L328.12 542.80M328.12 539.20L321.88 542.80M335.10 537.40L335.10 544.60M331.98 539.20L338.22 542.80M338.22 539.20L331.98 542.80" stroke="#000" stroke-width="1.7" fill="none"/>
<text x="324.50" y="521.50" font-size="15.7" font-weight="bold" text-anchor="middle">V<tspan font-size="12.4" dy="3.6">57</tspan><tspan dy="-3.6"> Gy</tspan></text>
<text x="363.00" y="556.60" font-size="23.5" text-anchor="middle" class="lt ll">j</text>
<rect x="405.60" y="600.18" width="114.40" height="102.12" fill="#72B87E"/>
<rect x="405.60" y="566.14" width="114.40" height="34.04" fill="#FFC680"/>
<rect x="405.60" y="532.10" width="114.40" height="34.04" fill="#FF8783"/>
<path d="M423.40 702.30V689.36H452.50V702.30" fill="#D2D2D2" stroke="#000" stroke-width="2.4"/>
<path d="M472.30 702.30V690.05H501.50V702.30" fill="#A5A5A5" stroke="#000" stroke-width="2.4"/>
<path d="M405.60 702.30V532.10H520.00V702.30" fill="none" stroke="#000" stroke-width="1.6" stroke-linejoin="miter"/>
<path d="M399.10 702.30H520.80" fill="none" stroke="#000" stroke-width="1.6"/>
<path d="M399.10 702.30H405.60" stroke="#000" stroke-width="1.6"/>
<text x="396.60" y="706.70" font-size="12.6" font-weight="bold" text-anchor="end">0</text>
<path d="M399.10 668.26H405.60" stroke="#000" stroke-width="1.6"/>
<text x="396.60" y="672.66" font-size="12.6" font-weight="bold" text-anchor="end">1</text>
<path d="M399.10 634.22H405.60" stroke="#000" stroke-width="1.6"/>
<text x="396.60" y="638.62" font-size="12.6" font-weight="bold" text-anchor="end">2</text>
<path d="M399.10 600.18H405.60" stroke="#000" stroke-width="1.6"/>
<text x="396.60" y="604.58" font-size="12.6" font-weight="bold" text-anchor="end">3</text>
<path d="M399.10 566.14H405.60" stroke="#000" stroke-width="1.6"/>
<text x="396.60" y="570.54" font-size="12.6" font-weight="bold" text-anchor="end">4</text>
<path d="M399.10 532.10H405.60" stroke="#000" stroke-width="1.6"/>
<text x="396.60" y="536.50" font-size="12.6" font-weight="bold" text-anchor="end">5</text>
<path d="M438.00 702.30V709.80" stroke="#000" stroke-width="1.6"/>
<text x="438.00" y="723.00" font-size="12.6" font-weight="bold" text-anchor="middle">7mm</text>
<path d="M487.20 702.30V709.80" stroke="#000" stroke-width="1.6"/>
<text x="487.20" y="723.00" font-size="12.6" font-weight="bold" text-anchor="middle">5mm</text>
<text x="462.60" y="743.20" font-size="14" font-weight="bold" text-anchor="middle">PTV Margin</text>
<path d="M438.00 620.60L487.20 651.24" stroke="#000" stroke-width="2"/>
<path d="M438.00 685.28L487.20 692.09" stroke="#000" stroke-width="2"/>
<path d="M438.00 688.68L487.20 675.07" stroke="#000" stroke-width="2"/>
<path d="M438.00 690.39L487.20 681.88" stroke="#000" stroke-width="2"/>
<path d="M438.00 692.09L487.20 685.28" stroke="#000" stroke-width="2"/>
<path d="M438.00 695.49L487.20 697.19" stroke="#000" stroke-width="2"/>
<path d="M438.00 697.19L487.20 698.90" stroke="#000" stroke-width="2"/>
<path d="M438.00 698.90L487.20 700.60" stroke="#000" stroke-width="2"/>
<path d="M438.00 700.60L487.20 702.30" stroke="#000" stroke-width="2"/>
<path d="M438.00 702.30L487.20 702.30" stroke="#000" stroke-width="2"/>
<circle cx="438.00" cy="620.60" r="3.3"/><circle cx="487.20" cy="651.24" r="3.3"/>
<circle cx="438.00" cy="685.28" r="3.3"/><circle cx="487.20" cy="692.09" r="3.3"/>
<circle cx="438.00" cy="688.68" r="3.3"/><circle cx="487.20" cy="675.07" r="3.3"/>
<circle cx="438.00" cy="690.39" r="3.3"/><circle cx="487.20" cy="681.88" r="3.3"/>
<circle cx="438.00" cy="692.09" r="3.3"/><circle cx="487.20" cy="685.28" r="3.3"/>
<circle cx="438.00" cy="695.49" r="3.3"/><circle cx="487.20" cy="697.19" r="3.3"/>
<circle cx="438.00" cy="697.19" r="3.3"/><circle cx="487.20" cy="698.90" r="3.3"/>
<circle cx="438.00" cy="698.90" r="3.3"/><circle cx="487.20" cy="700.60" r="3.3"/>
<circle cx="438.00" cy="700.60" r="3.3"/><circle cx="487.20" cy="702.30" r="3.3"/>
<circle cx="438.00" cy="702.30" r="3.3"/><circle cx="487.20" cy="702.30" r="3.3"/>
<path d="M438.00 609.70V600.40H487.20V643.00" fill="none" stroke="#000" stroke-width="1.6"/>
<text x="462.60" y="592.10" font-size="12.5" text-anchor="middle">ns</text>
<text x="462.80" y="524.50" font-size="15.7" font-weight="bold" text-anchor="middle">V<tspan font-size="12.4" dy="3.6">60</tspan><tspan dy="-3.6"> Gy</tspan></text>
<text x="504.50" y="559.10" font-size="23.5" text-anchor="middle" class="lt ll">k</text>
<rect x="568.80" y="615.80" width="114.10" height="84.80" fill="#72B87E"/>
<rect x="568.80" y="607.32" width="114.10" height="8.48" fill="#FFC680"/>
<rect x="568.80" y="531.00" width="114.10" height="76.32" fill="#FF8783"/>
<path d="M586.30 700.60V613.26H615.50V700.60" fill="#D2D2D2" stroke="#000" stroke-width="2.4"/>
<path d="M635.40 700.60V614.53H664.60V700.60" fill="#A5A5A5" stroke="#000" stroke-width="2.4"/>
<path d="M568.80 700.60V531.00H682.90V700.60" fill="none" stroke="#000" stroke-width="1.6" stroke-linejoin="miter"/>
<path d="M561.50 700.60H683.70" fill="none" stroke="#000" stroke-width="1.6"/>
<path d="M561.50 700.60H568.80" stroke="#000" stroke-width="1.6"/>
<text x="558.80" y="705.00" font-size="12.6" font-weight="bold" text-anchor="end">50</text>
<path d="M561.50 658.20H568.80" stroke="#000" stroke-width="1.6"/>
<text x="558.80" y="662.60" font-size="12.6" font-weight="bold" text-anchor="end">55</text>
<path d="M561.50 615.80H568.80" stroke="#000" stroke-width="1.6"/>
<text x="558.80" y="620.20" font-size="12.6" font-weight="bold" text-anchor="end">60</text>
<path d="M561.50 573.40H568.80" stroke="#000" stroke-width="1.6"/>
<text x="558.80" y="577.80" font-size="12.6" font-weight="bold" text-anchor="end">65</text>
<path d="M561.50 531.00H568.80" stroke="#000" stroke-width="1.6"/>
<text x="558.80" y="535.40" font-size="12.6" font-weight="bold" text-anchor="end">70</text>
<path d="M600.90 700.60V708.10" stroke="#000" stroke-width="1.6"/>
<text x="600.90" y="721.30" font-size="12.6" font-weight="bold" text-anchor="middle">7mm</text>
<path d="M650.00 700.60V708.10" stroke="#000" stroke-width="1.6"/>
<text x="650.00" y="721.30" font-size="12.6" font-weight="bold" text-anchor="middle">5mm</text>
<text x="625.45" y="741.50" font-size="14" font-weight="bold" text-anchor="middle">PTV Margin</text>
<path d="M600.90 601.38L650.00 600.11" stroke="#000" stroke-width="2"/>
<path d="M600.90 605.62L650.00 605.62" stroke="#000" stroke-width="2"/>
<path d="M600.90 609.02L650.00 608.17" stroke="#000" stroke-width="2"/>
<path d="M600.90 611.56L650.00 610.71" stroke="#000" stroke-width="2"/>
<path d="M600.90 614.10L650.00 615.80" stroke="#000" stroke-width="2"/>
<path d="M600.90 616.65L650.00 620.04" stroke="#000" stroke-width="2"/>
<path d="M600.90 618.34L650.00 623.43" stroke="#000" stroke-width="2"/>
<path d="M600.90 620.04L650.00 626.82" stroke="#000" stroke-width="2"/>
<path d="M600.90 621.74L650.00 620.89" stroke="#000" stroke-width="2"/>
<circle cx="600.90" cy="601.38" r="3.3"/><circle cx="650.00" cy="600.11" r="3.3"/>
<circle cx="600.90" cy="605.62" r="3.3"/><circle cx="650.00" cy="605.62" r="3.3"/>
<circle cx="600.90" cy="609.02" r="3.3"/><circle cx="650.00" cy="608.17" r="3.3"/>
<circle cx="600.90" cy="611.56" r="3.3"/><circle cx="650.00" cy="610.71" r="3.3"/>
<circle cx="600.90" cy="614.10" r="3.3"/><circle cx="650.00" cy="615.80" r="3.3"/>
<circle cx="600.90" cy="616.65" r="3.3"/><circle cx="650.00" cy="620.04" r="3.3"/>
<circle cx="600.90" cy="618.34" r="3.3"/><circle cx="650.00" cy="623.43" r="3.3"/>
<circle cx="600.90" cy="620.04" r="3.3"/><circle cx="650.00" cy="626.82" r="3.3"/>
<circle cx="600.90" cy="621.74" r="3.3"/><circle cx="650.00" cy="620.89" r="3.3"/>
<path d="M600.90 614.10L650.00 612.41" stroke="#000" stroke-width="2"/>
<rect x="596.00" y="609.20" width="9.8" height="9.8"/>
<rect x="645.10" y="607.51" width="9.8" height="9.8"/>
<path d="M600.90 590.50V580.50H650.00V590.50" fill="none" stroke="#000" stroke-width="1.6"/>
<text x="625.45" y="572.20" font-size="12.5" text-anchor="middle">ns</text>
<text x="625.85" y="0.00" font-size="15.7" font-weight="bold" text-anchor="middle"></text>
<text x="665.00" y="555.60" font-size="23.5" text-anchor="middle" class="lt ll">l</text>
<text transform="translate(538.00 616.00) rotate(-90)" font-size="14" font-weight="bold" text-anchor="middle">D0.03cc (Gy)</text>
<rect x="124.50" y="872.59" width="112.40" height="119.51" fill="#72B87E"/>
<rect x="124.50" y="862.97" width="112.40" height="9.62" fill="#FFC680"/>
<rect x="124.50" y="824.50" width="112.40" height="38.47" fill="#FF8783"/>
<path d="M141.80 992.10V966.37H171.10V992.10" fill="#D2D2D2" stroke="#000" stroke-width="2.4"/>
<path d="M190.90 992.10V971.18H219.90V992.10" fill="#A5A5A5" stroke="#000" stroke-width="2.4"/>
<path d="M124.50 992.10V824.50H236.90V992.10" fill="none" stroke="#000" stroke-width="1.6" stroke-linejoin="miter"/>
<path d="M123.70 992.10H237.70" fill="none" stroke="#000" stroke-width="1.6"/>
<path d="M117.20 968.78H124.50" stroke="#000" stroke-width="1.6"/>
<text x="114.50" y="973.18" font-size="12.6" font-weight="bold" text-anchor="end">30</text>
<path d="M117.20 920.68H124.50" stroke="#000" stroke-width="1.6"/>
<text x="114.50" y="925.08" font-size="12.6" font-weight="bold" text-anchor="end">40</text>
<path d="M117.20 872.59H124.50" stroke="#000" stroke-width="1.6"/>
<text x="114.50" y="876.99" font-size="12.6" font-weight="bold" text-anchor="end">50</text>
<path d="M117.20 824.50H124.50" stroke="#000" stroke-width="1.6"/>
<text x="114.50" y="828.90" font-size="12.6" font-weight="bold" text-anchor="end">60</text>
<path d="M156.60 992.10V999.60" stroke="#000" stroke-width="1.6"/>
<text x="156.60" y="1012.80" font-size="12.6" font-weight="bold" text-anchor="middle">7mm</text>
<path d="M205.10 992.10V999.60" stroke="#000" stroke-width="1.6"/>
<text x="205.10" y="1012.80" font-size="12.6" font-weight="bold" text-anchor="middle">5mm</text>
<text x="180.85" y="1033.00" font-size="14" font-weight="bold" text-anchor="middle">PTV Margin</text>
<path d="M156.60 943.77L205.10 949.06" stroke="#000" stroke-width="2"/>
<path d="M156.60 953.39L205.10 953.87" stroke="#000" stroke-width="2"/>
<path d="M156.60 957.23L205.10 968.78" stroke="#000" stroke-width="2"/>
<path d="M156.60 963.49L205.10 972.14" stroke="#000" stroke-width="2"/>
<path d="M156.60 966.37L205.10 975.51" stroke="#000" stroke-width="2"/>
<path d="M156.60 968.78L205.10 972.14" stroke="#000" stroke-width="2"/>
<path d="M156.60 972.14L205.10 963.49" stroke="#000" stroke-width="2"/>
<path d="M156.60 981.76L205.10 983.68" stroke="#000" stroke-width="2"/>
<path d="M156.60 984.16L205.10 990.42" stroke="#000" stroke-width="2"/>
<path d="M156.60 966.37L205.10 975.51" stroke="#000" stroke-width="2"/>
<circle cx="156.60" cy="943.77" r="3.3"/><circle cx="205.10" cy="949.06" r="3.3"/>
<circle cx="156.60" cy="953.39" r="3.3"/><circle cx="205.10" cy="953.87" r="3.3"/>
<circle cx="156.60" cy="957.23" r="3.3"/><circle cx="205.10" cy="968.78" r="3.3"/>
<circle cx="156.60" cy="963.49" r="3.3"/><circle cx="205.10" cy="972.14" r="3.3"/>
<circle cx="156.60" cy="966.37" r="3.3"/><circle cx="205.10" cy="975.51" r="3.3"/>
<circle cx="156.60" cy="968.78" r="3.3"/><circle cx="205.10" cy="972.14" r="3.3"/>
<circle cx="156.60" cy="972.14" r="3.3"/><circle cx="205.10" cy="963.49" r="3.3"/>
<circle cx="156.60" cy="981.76" r="3.3"/><circle cx="205.10" cy="983.68" r="3.3"/>
<circle cx="156.60" cy="984.16" r="3.3"/><circle cx="205.10" cy="990.42" r="3.3"/>
<circle cx="156.60" cy="966.37" r="3.3"/><circle cx="205.10" cy="975.51" r="3.3"/>
<path d="M156.60 932.80V922.90H205.10V938.20" fill="none" stroke="#000" stroke-width="1.6"/>
<text x="180.85" y="914.60" font-size="12.5" text-anchor="middle">ns</text>
<text x="180.70" y="817.50" font-size="15.7" font-weight="bold" text-anchor="middle">Left</text>
<text x="219.50" y="851.60" font-size="23.5" text-anchor="middle" class="lt ll">m</text>
<text transform="translate(93.00 908.00) rotate(-90)" font-size="14" font-weight="bold" text-anchor="middle">D0.03cc (Gy)</text>
<rect x="263.50" y="872.59" width="112.40" height="119.51" fill="#72B87E"/>
<rect x="263.50" y="862.97" width="112.40" height="9.62" fill="#FFC680"/>
<rect x="263.50" y="824.50" width="112.40" height="38.47" fill="#FF8783"/>
<path d="M281.10 992.10V968.29H310.50V992.10" fill="#D2D2D2" stroke="#000" stroke-width="2.4"/>
<path d="M329.50 992.10V976.95H358.60V992.10" fill="#A5A5A5" stroke="#000" stroke-width="2.4"/>
<path d="M263.50 992.10V824.50H375.90V992.10" fill="none" stroke="#000" stroke-width="1.6" stroke-linejoin="miter"/>
<path d="M262.70 992.10H376.70" fill="none" stroke="#000" stroke-width="1.6"/>
<path d="M256.20 968.78H263.50" stroke="#000" stroke-width="1.6"/>
<text x="253.50" y="973.18" font-size="12.6" font-weight="bold" text-anchor="end">30</text>
<path d="M256.20 920.68H263.50" stroke="#000" stroke-width="1.6"/>
<text x="253.50" y="925.08" font-size="12.6" font-weight="bold" text-anchor="end">40</text>
<path d="M256.20 872.59H263.50" stroke="#000" stroke-width="1.6"/>
<text x="253.50" y="876.99" font-size="12.6" font-weight="bold" text-anchor="end">50</text>
<path d="M256.20 824.50H263.50" stroke="#000" stroke-width="1.6"/>
<text x="253.50" y="828.90" font-size="12.6" font-weight="bold" text-anchor="end">60</text>
<path d="M295.70 992.10V999.60" stroke="#000" stroke-width="1.6"/>
<text x="295.70" y="1012.80" font-size="12.6" font-weight="bold" text-anchor="middle">7mm</text>
<path d="M344.10 992.10V999.60" stroke="#000" stroke-width="1.6"/>
<text x="344.10" y="1012.80" font-size="12.6" font-weight="bold" text-anchor="middle">5mm</text>
<text x="319.90" y="1033.00" font-size="14" font-weight="bold" text-anchor="middle">PTV Margin</text>
<path d="M295.70 947.13L344.10 950.98" stroke="#000" stroke-width="2"/>
<path d="M295.70 962.04L344.10 966.37" stroke="#000" stroke-width="2"/>
<path d="M295.70 965.41L344.10 970.22" stroke="#000" stroke-width="2"/>
<path d="M295.70 968.29L344.10 970.22" stroke="#000" stroke-width="2"/>
<path d="M295.70 969.74L344.10 973.10" stroke="#000" stroke-width="2"/>
<path d="M295.70 971.18L344.10 975.51" stroke="#000" stroke-width="2"/>
<path d="M295.70 973.58L344.10 984.65" stroke="#000" stroke-width="2"/>
<path d="M295.70 987.05L344.10 991.62" stroke="#000" stroke-width="2"/>
<circle cx="295.70" cy="947.13" r="3.3"/><circle cx="344.10" cy="950.98" r="3.3"/>
<circle cx="295.70" cy="962.04" r="3.3"/><circle cx="344.10" cy="966.37" r="3.3"/>
<circle cx="295.70" cy="965.41" r="3.3"/><circle cx="344.10" cy="970.22" r="3.3"/>
<circle cx="295.70" cy="968.29" r="3.3"/><circle cx="344.10" cy="970.22" r="3.3"/>
<circle cx="295.70" cy="969.74" r="3.3"/><circle cx="344.10" cy="973.10" r="3.3"/>
<circle cx="295.70" cy="971.18" r="3.3"/><circle cx="344.10" cy="975.51" r="3.3"/>
<circle cx="295.70" cy="973.58" r="3.3"/><circle cx="344.10" cy="984.65" r="3.3"/>
<circle cx="295.70" cy="987.05" r="3.3"/><circle cx="344.10" cy="991.62" r="3.3"/>
<path d="M295.70 936.00V927.30H344.10V940.40" fill="none" stroke="#000" stroke-width="1.6"/>
<text x="319.90" y="919.00" font-size="12.5" text-anchor="middle">ns</text>
<text x="319.70" y="817.50" font-size="15.7" font-weight="bold" text-anchor="middle">Right</text>
<text x="360.50" y="851.60" font-size="23.5" text-anchor="middle" class="lt ll">n</text>
<rect x="570.90" y="962.05" width="112.80" height="30.55" fill="#72B87E"/>
<rect x="570.90" y="839.87" width="112.80" height="122.18" fill="#FFC680"/>
<rect x="570.90" y="824.60" width="112.80" height="15.27" fill="#FF8783"/>
<path d="M588.60 992.60V977.33H617.40V992.60" fill="#D2D2D2" stroke="#000" stroke-width="2.4"/>
<path d="M637.40 992.60V982.37H665.80V992.60" fill="#A5A5A5" stroke="#000" stroke-width="2.4"/>
<path d="M570.90 992.60V824.60H683.70V992.60" fill="none" stroke="#000" stroke-width="1.6" stroke-linejoin="miter"/>
<path d="M564.40 992.60H684.50" fill="none" stroke="#000" stroke-width="1.6"/>
<path d="M564.40 992.60H570.90" stroke="#000" stroke-width="1.6"/>
<text x="562.20" y="997.00" font-size="12.6" font-weight="bold" text-anchor="end">0</text>
<path d="M564.40 916.24H570.90" stroke="#000" stroke-width="1.6"/>
<text x="562.20" y="920.64" font-size="12.6" font-weight="bold" text-anchor="end">5</text>
<path d="M564.40 839.87H570.90" stroke="#000" stroke-width="1.6"/>
<text x="562.20" y="844.27" font-size="12.6" font-weight="bold" text-anchor="end">10</text>
<path d="M603.30 992.60V1000.10" stroke="#000" stroke-width="1.6"/>
<text x="603.30" y="1013.30" font-size="12.6" font-weight="bold" text-anchor="middle">7mm</text>
<path d="M651.10 992.60V1000.10" stroke="#000" stroke-width="1.6"/>
<text x="651.10" y="1013.30" font-size="12.6" font-weight="bold" text-anchor="middle">5mm</text>
<text x="627.20" y="1033.50" font-size="14" font-weight="bold" text-anchor="middle">PTV Margin</text>
<path d="M603.30 938.08L651.10 988.02" stroke="#000" stroke-width="2"/>
<path d="M603.30 992.60L651.10 992.60" stroke="#000" stroke-width="2"/>
<circle cx="603.30" cy="938.08" r="3.3"/><circle cx="651.10" cy="988.02" r="3.3"/>
<circle cx="603.30" cy="992.60" r="3.3"/><circle cx="651.10" cy="992.60" r="3.3"/>
<path d="M603.30 885.69L651.10 886.45" stroke="#000" stroke-width="2"/>
<rect x="598.40" y="880.79" width="9.8" height="9.8"/>
<rect x="646.20" y="881.55" width="9.8" height="9.8"/>
<path d="M603.30 876.50V866.50H651.10V876.50" fill="none" stroke="#000" stroke-width="1.6"/>
<text x="627.20" y="858.20" font-size="12.5" text-anchor="middle">ns</text>
<text x="627.00" y="815.30" font-size="15.7" font-weight="bold" text-anchor="middle">V<tspan font-size="12.4" dy="3.6">46.2</tspan><tspan dy="-3.6"> Gy</tspan></text>
<text x="668.00" y="851.30" font-size="23.5" text-anchor="middle" class="lt ll">p</text>
<rect x="432.6" y="825.1" width="112.20" height="7.65" fill="#FF8783"/>
<rect x="432.6" y="832.75" width="112.20" height="22.95" fill="#FFC680"/>
<rect x="432.6" y="868.4" width="112.20" height="124.20" fill="#72B87E"/>
<path d="M449.60 992.60V987.63H479.50V992.60" fill="#D2D2D2" stroke="#000" stroke-width="2.4"/>
<path d="M497.10 992.60V989.12H527.10V992.60" fill="#A5A5A5" stroke="#000" stroke-width="2.4"/>
<path d="M432.6 855.7V825.1H544.8V992.6" fill="none" stroke="#000" stroke-width="1.6"/>
<path d="M432.6 868.4V992.6" fill="none" stroke="#000" stroke-width="1.6"/>
<path d="M425.1 992.6H545.55" stroke="#000" stroke-width="1.6"/>
<path d="M428.6 855.7H436.6M428.6 868.4H436.6" stroke="#000" stroke-width="1.6"/>
<path d="M425.1 855.70H432.6" stroke="#000" stroke-width="1.6"/>
<text x="422.60" y="860.00" font-size="12.6" font-weight="bold" text-anchor="end">200</text>
<path d="M425.1 840.40H432.6" stroke="#000" stroke-width="1.6"/>
<text x="422.60" y="844.70" font-size="12.6" font-weight="bold" text-anchor="end">300</text>
<path d="M425.1 825.10H432.6" stroke="#000" stroke-width="1.6"/>
<text x="422.60" y="829.40" font-size="12.6" font-weight="bold" text-anchor="end">400</text>
<path d="M425.1 992.60H432.6" stroke="#000" stroke-width="1.6"/>
<text x="422.60" y="996.90" font-size="12.6" font-weight="bold" text-anchor="end">0</text>
<path d="M425.1 967.76H432.6" stroke="#000" stroke-width="1.6"/>
<text x="422.60" y="972.06" font-size="12.6" font-weight="bold" text-anchor="end">5</text>
<path d="M425.1 942.92H432.6" stroke="#000" stroke-width="1.6"/>
<text x="422.60" y="947.22" font-size="12.6" font-weight="bold" text-anchor="end">10</text>
<path d="M425.1 918.08H432.6" stroke="#000" stroke-width="1.6"/>
<text x="422.60" y="922.38" font-size="12.6" font-weight="bold" text-anchor="end">15</text>
<path d="M425.1 893.24H432.6" stroke="#000" stroke-width="1.6"/>
<text x="422.60" y="897.54" font-size="12.6" font-weight="bold" text-anchor="end">20</text>
<path d="M425.1 868.40H432.6" stroke="#000" stroke-width="1.6"/>
<text x="422.60" y="872.70" font-size="12.6" font-weight="bold" text-anchor="end">25</text>
<path d="M464.3 992.6V1000.1" stroke="#000" stroke-width="1.6"/>
<text x="464.3" y="1013.30" font-size="12.6" font-weight="bold" text-anchor="middle">7mm</text>
<path d="M512.7 992.6V1000.1" stroke="#000" stroke-width="1.6"/>
<text x="512.7" y="1013.30" font-size="12.6" font-weight="bold" text-anchor="middle">5mm</text>
<text x="488.50" y="1033.50" font-size="14" font-weight="bold" text-anchor="middle">PTV Margin</text>
<path d="M464.3 970.24L512.7 985.15" stroke="#000" stroke-width="2"/>
<circle cx="464.3" cy="970.24" r="3.3"/><circle cx="512.7" cy="985.15" r="3.3"/>
<path d="M464.3 992.60L512.7 992.60" stroke="#000" stroke-width="2"/>
<circle cx="464.3" cy="992.60" r="3.3"/><circle cx="512.7" cy="992.60" r="3.3"/>
<path d="M464.3 951.86L512.7 952.36" stroke="#000" stroke-width="2"/>
<rect x="459.40" y="946.96" width="9.8" height="9.8"/>
<rect x="507.80" y="947.46" width="9.8" height="9.8"/>
<path d="M464.3 940.7V931.5H512.7V940.7" fill="none" stroke="#000" stroke-width="1.6"/>
<text x="488.50" y="923.20" font-size="12.5" text-anchor="middle">ns</text>
<text x="488.70" y="818.3" font-size="15.7" font-weight="bold" text-anchor="middle">V<tspan font-size="12.4" dy="3.6">43.5</tspan><tspan dy="-3.6"> Gy</tspan></text>
<text x="529.2" y="851" font-size="23.5" text-anchor="middle" class="lt ll">o</text>
<text transform="translate(394.2 908.6) rotate(-90)" font-size="14" font-weight="bold" text-anchor="middle">(%)</text>
<text x="-2.4" y="22.1" font-size="20" textLength="70.8" lengthAdjust="spacingAndGlyphs" class="lt">Bladder</text>
<text x="-1.5" y="278.8" font-size="20" textLength="69.9" lengthAdjust="spacingAndGlyphs" class="lt">Rectum</text>
<text x="-1.5" y="793" font-size="20" textLength="136.4" lengthAdjust="spacingAndGlyphs" class="lt">Femoral Heads</text>
<text x="405.9" y="793" font-size="20" textLength="97.4" lengthAdjust="spacingAndGlyphs" class="lt">Bowel Bag</text>
</svg>
</body></html>
